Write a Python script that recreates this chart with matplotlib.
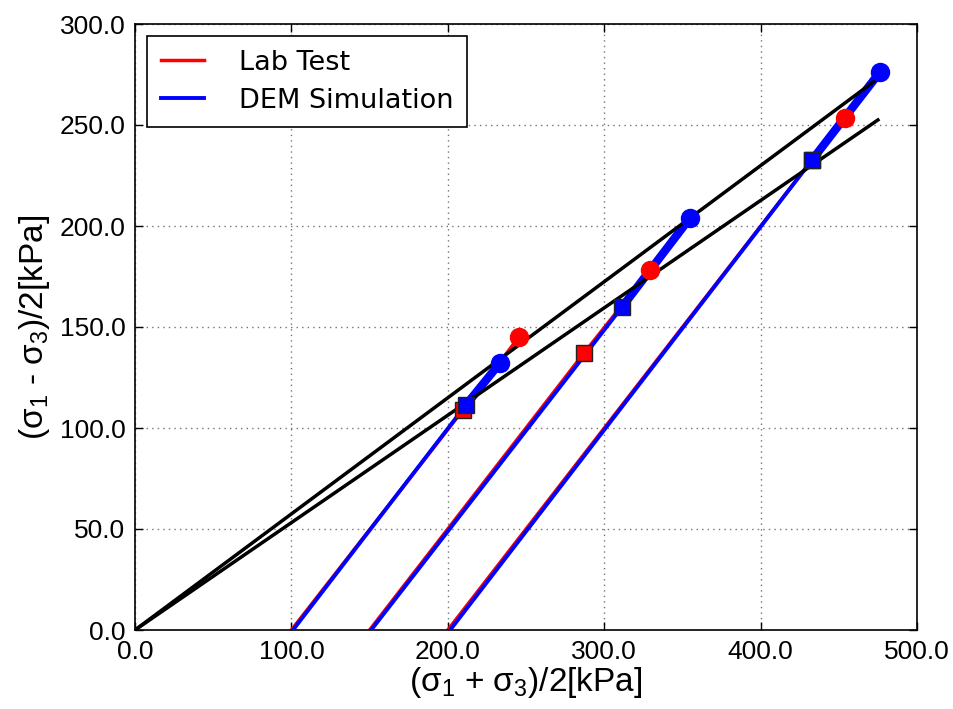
import matplotlib
matplotlib.use("Agg")
import matplotlib.pyplot as plt
import numpy as np

# ---- data (kPa) ----
confining = [100, 150, 200]
# Lab test stress paths: start, "square" point, peak (circle)
lab_p = [[100.0, 209.7, 245.5], [150.0, 287.1, 329.3], [200.0, 432.9, 454.0]]
lab_q = [[0.0, 108.9, 145.0], [0.0, 137.1, 178.2], [0.0, 232.7, 253.5]]
# DEM simulation stress paths
dem_p = [[101.0, 211.6, 233.4], [151.0, 311.4, 354.9], [201.5, 432.9, 476.3]]
dem_q = [[0.0, 111.4, 132.2], [0.0, 159.9, 204.0], [0.0, 232.7, 276.2]]
# failure envelopes through origin
env_p = [0.0, 475.0]
env_upper_q = [0.0, 273.0]
env_lower_q = [0.0, 252.5]

xticks = [0, 100, 200, 300, 400, 500]
yticks = [0, 50, 100, 150, 200, 250, 300]

plt.rcParams['mathtext.fontset'] = 'custom'
plt.rcParams['mathtext.rm'] = 'Liberation Sans'
plt.rcParams['mathtext.it'] = 'Liberation Sans'
plt.rcParams['font.family'] = ['Liberation Sans', 'DejaVu Sans']

fig = plt.figure(figsize=(9.54, 7.09), dpi=100)
ax = fig.add_axes([135/954, 1-630/709, (917-135)/954, (630-24)/709])

for i in range(3):
    ax.plot(lab_p[i], lab_q[i], color='red', lw=2.5, zorder=2,
            label='Lab Test' if i == 0 else None)
for i in range(3):
    ax.plot(dem_p[i][:2], dem_q[i][:2], color='blue', lw=2.8, zorder=3,
            label='DEM Simulation' if i == 0 else None)
    ax.plot(dem_p[i][1:], dem_q[i][1:], color='blue', lw=6, zorder=3,
            solid_capstyle='round')

ax.plot(env_p, env_upper_q, color='black', lw=2.5, zorder=4)
ax.plot(env_p, env_lower_q, color='black', lw=2.5, zorder=4)

for i in range(3):
    ax.plot(lab_p[i][1], lab_q[i][1], 's', color='red', ms=11, mec='#222222', mew=1, zorder=5)
    ax.plot(dem_p[i][1], dem_q[i][1], 's', color='blue', ms=11, mec='#222222', mew=1, zorder=6)
    ax.plot(dem_p[i][2], dem_q[i][2], 'o', color='blue', ms=13, mec='blue', zorder=5)
    ax.plot(lab_p[i][2], lab_q[i][2], 'o', color='red', ms=13, mec='red', zorder=6)

ax.set_xlim(0, 500)
ax.set_ylim(0, 300)
ax.set_xticks(xticks)
ax.set_yticks(yticks)
ax.set_xticklabels([f"{v:.1f}" for v in xticks])
ax.set_yticklabels([f"{v:.1f}" for v in yticks])
ax.tick_params(direction='in', top=True, right=True, length=6, width=1,
               labelsize=19, pad=7)
ax.grid(True, color='black', linestyle=(0, (1, 3)), linewidth=1.0, alpha=0.55)
for s in ax.spines.values():
    s.set_linewidth(1.2)

ax.set_xlabel('(σ$_1$ + σ$_3$)/2[kPa]', fontsize=24, labelpad=1)
ax.set_ylabel('(σ$_1$ - σ$_3$)/2[kPa]', fontsize=24, labelpad=5)

leg = ax.legend(loc='upper left', prop={'family': 'DejaVu Sans', 'size': 19.5},
                fancybox=False, framealpha=1, edgecolor='black', handlelength=1.6,
                borderpad=0.5, labelspacing=0.45, handletextpad=1.3,
                borderaxespad=0.45)
leg.get_frame().set_linewidth(1.2)

fig.savefig('out.png', dpi=100)
